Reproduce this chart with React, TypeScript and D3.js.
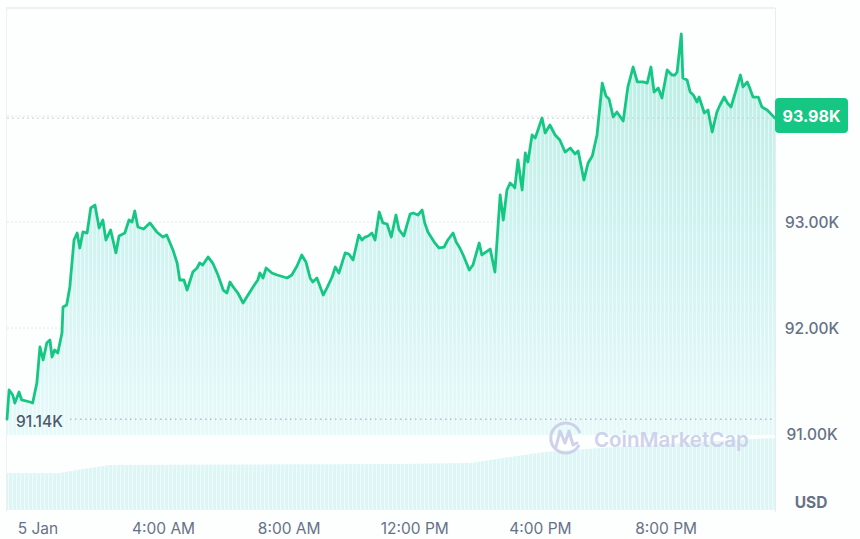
import React from "react";
import * as d3 from "d3";

// minutes after 00:00 on 5 Jan
const priceMinutes = [
  -59, -55, -48, -44, -36, -31, -15, -10, -2, 4, 10, 17, 23, 27, 32, 38, 46, 48, 55, 61,
  69, 75, 80, 86, 94, 101, 109, 117, 124, 130, 139, 149, 155, 166, 174, 180, 185, 191, 202, 214,
  227, 239, 246, 258, 266, 271, 279, 285, 296, 304, 309, 315, 325, 334, 344, 354, 361, 367, 373, 382,
  392, 399, 411, 420, 424, 430, 436, 447, 457, 476, 485, 495, 504, 512, 520, 525, 533, 545, 552, 562,
  568, 575, 587, 594, 602, 613, 619, 625, 631, 638, 644, 652, 659, 667, 675, 684, 690, 699, 711, 717,
  726, 734, 739, 745, 757, 766, 776, 783, 793, 799, 806, 814, 824, 831, 843, 848, 864, 873, 883, 889,
  896, 902, 908, 911, 917, 925, 931, 936, 944, 950, 963, 969, 978, 988, 997, 1007, 1017, 1026, 1032, 1043,
  1051, 1059, 1068, 1078, 1085, 1091, 1099, 1106, 1118, 1127, 1137, 1145, 1156, 1164, 1171, 1177, 1185, 1192, 1202, 1211,
  1217, 1221, 1229, 1232, 1240, 1246, 1252, 1259, 1263, 1273, 1280, 1288, 1297, 1303, 1311, 1317, 1324, 1332, 1342, 1347,
  1355, 1359, 1366, 1376, 1383, 1393, 1408,
];

// BTC price in USD
const priceValues = [
  91140, 91415, 91368, 91292, 91396, 91321, 91302, 91292, 91481, 91821, 91698, 91858, 91887, 91726, 91792, 91764, 91953, 92198, 92217, 92387,
  92830, 92896, 92755, 92906, 92896, 93132, 93160, 92943, 93019, 92830, 92925, 92708, 92868, 92896, 93019, 93000, 93104, 92953, 92934, 92991,
  92906, 92858, 92877, 92736, 92613, 92453, 92453, 92358, 92528, 92566, 92613, 92594, 92670, 92613, 92500, 92358, 92330, 92434, 92387, 92330,
  92236, 92292, 92387, 92453, 92519, 92472, 92566, 92519, 92500, 92472, 92500, 92585, 92689, 92623, 92472, 92434, 92472, 92311, 92377, 92481,
  92575, 92519, 92708, 92698, 92642, 92877, 92830, 92858, 92868, 92896, 92830, 93094, 92991, 92981, 92858, 93066, 92925, 92868, 93075, 93085,
  93066, 93113, 92991, 92906, 92811, 92755, 92764, 92830, 92896, 92811, 92755, 92670, 92547, 92594, 92802, 92689, 92745, 92528, 93255, 93019,
  93302, 93368, 93340, 93321, 93585, 93302, 93651, 93566, 93821, 93792, 93981, 93840, 93915, 93821, 93774, 93660, 93698, 93642, 93670, 93396,
  93557, 93623, 93821, 94311, 94189, 94160, 93991, 94038, 93953, 94274, 94462, 94321, 94321, 94311, 94462, 94226, 94264, 94170, 94434, 94387,
  94387, 94415, 94774, 94358, 94340, 94226, 94198, 94132, 94179, 94028, 94057, 93849, 94038, 94104, 94179, 94123, 94085, 94217, 94387, 94274,
  94321, 94274, 94179, 94179, 94085, 94057, 93980,
];

// 24h trading volume, billions USD
const volumeMinutes = [-59, 42, 52, 99, 138, 692, 826, 864, 902, 969, 1074, 1169, 1265, 1408];
const volumeValues = [18.5, 18.5, 19, 21, 22.5, 23, 23.5, 25, 26.5, 29, 31, 32.5, 34, 36];

const timeTicks = [0, 240, 480, 720, 960, 1200];
const timeTickLabels = ["5 Jan", "4:00 AM", "8:00 AM", "12:00 PM", "4:00 PM", "8:00 PM"];
const priceTicks = [91000, 92000, 93000, 94000];
const currentPrice = 93980;
const lowPrice = 91140;

const W = 860;
const H = 539;
const GREEN = "#16c784";
const GREY = "#667287";
const FONT = "Inter, 'Noto Sans', sans-serif";

export default function App() {
  const x = d3.scaleLinear().domain([-59, 1408]).range([7, 775]);
  const y = d3.scaleLinear().domain([91000, 94000]).range([434, 116]);
  const yVol = d3.scaleLinear().domain([0, 40]).range([510, 430]);

  const pts = priceMinutes.map((m, i) => [m, priceValues[i]] as [number, number]);
  const line = d3
    .line<[number, number]>()
    .x((d) => x(d[0]))
    .y((d) => y(d[1]));
  const area = d3
    .area<[number, number]>()
    .x((d) => x(d[0]))
    .y0(y(90990))
    .y1((d) => y(d[1]));

  const vpts = volumeMinutes.map((m, i) => [m, volumeValues[i]] as [number, number]);
  const vArea = d3
    .area<[number, number]>()
    .x((d) => x(d[0]))
    .y0(yVol(0))
    .y1((d) => yVol(d[1]));

  const fmtK = (v: number) => (v / 1000).toFixed(2) + "K";

  return (
    <svg
      width={W}
      height={H}
      style={{ position: "absolute", left: 0, top: 0, background: "#fdfefe" }}
      fontFamily={FONT}
    >
      <defs>
        <linearGradient id="areaGrad" gradientUnits="userSpaceOnUse" x1="0" y1="30" x2="0" y2="434">
          <stop offset="0" stopColor="#b9ede2" />
          <stop offset="0.5" stopColor="#cff3f0" />
          <stop offset="1" stopColor="#e6f9f9" />
        </linearGradient>
        <pattern id="stripes" width="4" height="10" patternUnits="userSpaceOnUse">
          <rect x="0" y="0" width="1.2" height="10" fill="#ffffff" opacity="0.5" />
        </pattern>
      </defs>

      {/* frame */}
      <line x1={6} x2={775} y1={8} y2={8} stroke="#e9edf1" strokeWidth={1.5} />
      <line x1={6.5} x2={6.5} y1={8} y2={512} stroke="#eef1f4" strokeWidth={1} />
      <line x1={775.5} x2={775.5} y1={8} y2={512} stroke="#e9edf1" strokeWidth={1} />

      {/* volume */}
      <path d={vArea(vpts) || ""} fill="#def5f5" />
      <path d={vArea(vpts) || ""} fill="url(#stripes)" />

      {/* gridlines */}
      {priceTicks.map((t) => (
        <line
          key={t}
          x1={7}
          x2={775}
          y1={y(t)}
          y2={y(t)}
          stroke="#e4e8ee"
          strokeWidth={1}
          strokeDasharray={t === 91000 ? undefined : "2 2"}
        />
      ))}

      {/* price area */}
      <path d={area(pts) || ""} fill="url(#areaGrad)" />
      <path d={area(pts) || ""} fill="url(#stripes)" />

      {/* reference lines */}
      <line x1={7} x2={775} y1={y(currentPrice)} y2={y(currentPrice)} stroke="#c9ced6" strokeWidth={1} strokeDasharray="2 3" />
      <line x1={70} x2={775} y1={y(lowPrice)} y2={y(lowPrice)} stroke="#9aa3b2" strokeWidth={1} strokeDasharray="1.5 3.5" />

      {/* watermark */}
      <g opacity={0.9}>
        <path
          d="M 578.5 446 A 15 15 0 1 1 579.5 432"
          fill="none"
          stroke="#c9cee9"
          strokeWidth={3}
          strokeLinecap="round"
        />
        <path
          d="M 556 447 L 560 431 L 565 443 L 569 431 L 573 445 L 577 443"
          fill="none"
          stroke="#c9cee9"
          strokeWidth={3}
          strokeLinejoin="round"
          strokeLinecap="round"
        />
        <text x={594} y={447} fontSize={20.5} fontWeight={600} fill="#c9cee9">
          CoinMarketCap
        </text>
      </g>

      {/* price line */}
      <path d={line(pts) || ""} fill="none" stroke={GREEN} strokeWidth={2.8} strokeLinejoin="round" strokeLinecap="round" />

      {/* low label */}
      <text x={16} y={427} fontSize={15.5} fontWeight={500} fill="#4d596d">
        {fmtK(lowPrice)}
      </text>

      {/* y axis labels */}
      {priceTicks
        .filter((t) => t !== 94000)
        .map((t) => (
          <text key={t} x={812} y={y(t) + 5.5} fontSize={15.5} fontWeight={500} fill={GREY} textAnchor="middle">
            {fmtK(t)}
          </text>
        ))}
      <text x={811} y={508} fontSize={15.5} fontWeight={700} fill={GREY} textAnchor="middle">
        USD
      </text>

      {/* current price badge */}
      <rect x={775} y={98} width={73} height={35} rx={4} fill={GREEN} />
      <text x={811.5} y={121.5} fontSize={16} fontWeight={700} fill="#ffffff" textAnchor="middle">
        {fmtK(currentPrice)}
      </text>

      {/* x axis labels */}
      {timeTicks.map((t, i) => (
        <text key={t} x={x(t)} y={534} fontSize={15.5} fontWeight={400} fill={GREY} textAnchor="middle">
          {timeTickLabels[i]}
        </text>
      ))}
    </svg>
  );
}
